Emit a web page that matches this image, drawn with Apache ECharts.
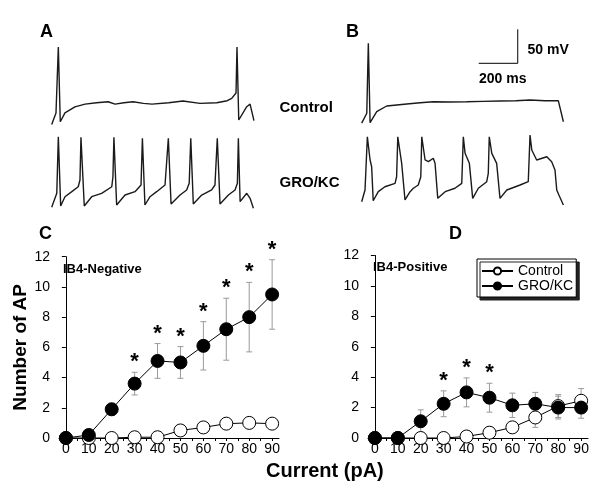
<!DOCTYPE html>
<html><head><meta charset="utf-8">
<script src="https://cdn.jsdelivr.net/npm/echarts@6/dist/echarts.min.js"></script>
<style>html,body{margin:0;padding:0;background:#fff}#c{width:600px;height:489px}</style>
</head><body><div id="c"></div>
<script>
// ---- Current-clamp traces (time ms, membrane potential mV), key points ----
const traceAControl = [[0,-60],[5,-60],[22,-43],[34,54],[44,-56],[68,-43],[119,-34],[171,-30],[230,-28],[289,-26.5],[325,-30],[370,-28],[417,-26.5],[470,-29],[514,-30],[600,-28],[673,-25.5],[760,-29],[846,-28],[900,-25],[923,-21.5],[945,-13.7],[950,54],[959,-53.4],[1000,-33.8],[1017,-30],[1037,-54.4]];
const traceAGro = [[0,-61],[5,-61],[26,-40.6],[34,42.6],[46,-59.3],[68,-45.6],[103,-38.2],[136,-30.9],[145,-21],[150,41.7],[167,-59.3],[205,-45.6],[256,-40.6],[308,-30.9],[314,-16.2],[319,41.7],[333,-57.8],[376,-43.1],[427,-38.2],[458,-28.4],[465,40.3],[478,-57.8],[504,-45.6],[538,-38.2],[581,-28.4],[598,40.3],[612,-56.3],[658,-43.1],[692,-35.7],[705,-25.9],[713,40.3],[726,-56.3],[769,-43.1],[820,-35.7],[837,-28.4],[849,40.3],[863,-56.3],[906,-43.1],[940,-35.7],[952,-25.9],[957,40.3],[966,-52.9],[1000,-40.6],[1017,-48],[1034,-62.6]];
const traceBControl = [[0,-58],[5,-58],[26,-43.5],[34,59.4],[43,-57.4],[77,-41.2],[128,-32.8],[231,-29.9],[300,-28],[367,-26.5],[450,-27],[538,-26.5],[620,-26],[709,-25.5],[790,-25],[863,-24],[940,-25],[1008,-25],[1034,-55.9]];
const traceBGro = [[0,-53],[5,-53],[17,-35.7],[29,42.6],[43,8.4],[51,-1.5],[59,-51.5],[85,-38.2],[119,-30.9],[171,-25.9],[179,-16.2],[185,42.6],[205,3.5],[222,-50.4],[248,-38.2],[265,-33.2],[290,-28.4],[303,-16.2],[308,42.6],[325,8.4],[342,5.9],[367,10.9],[376,3.5],[390,-48],[428,-38.2],[478,-33.2],[513,-25.9],[521,42.6],[530,18.2],[552,3.5],[569,-48],[598,-33.2],[641,-23.5],[649,-11.2],[654,42.6],[667,18.2],[692,3.5],[709,-48],[744,-35.7],[812,-28.4],[854,-23.5],[863,45.1],[872,23],[897,8.4],[949,13.2],[974,5.9],[991,-6.3],[1000,-35.7],[1011,-43.1],[1034,-57.8]];
const scaleBarTime = [600, 800];   // 200 ms
const scaleBarVolt = [30, 80];     // 50 mV

// ---- Number of action potentials vs injected current ----
const current = [0,10,20,30,40,50,60,70,80,90];
const xTicks = [0,10,20,30,40,50,60,70,80,90];
const xMinorTicks = [0,5,10,15,20,25,30,35,40,45,50,55,60,65,70,75,80,85,90];
const yTicks = [0,2,4,6,8,10,12];
const cControl    = [0,0,0,0.05,0.05,0.5,0.7,0.95,1.0,0.95];
const cControlErr = [0,0,0,0.15,0.15,0.2,0.2,0.2,0.2,0.2];
const cGro        = [0,0.2,1.9,3.6,5.1,5.0,6.1,7.2,8.0,9.5];
const cGroErr     = [0,0.1,0.4,0.75,1.15,1.05,1.6,2.05,2.3,2.3];
const cStars      = [30,40,50,60,70,80,90];
const dControl    = [0,0,0,0,0.1,0.35,0.7,1.35,2.1,2.45];
const dControlErr = [0,0,0,0,0.25,0.25,0.3,0.65,0.75,0.8];
const dGro        = [0,0,1.1,2.25,3.0,2.65,2.15,2.25,2.0,2.0];
const dGroErr     = [0,0,0.75,0.85,0.95,0.95,0.8,0.75,0.75,0.7];
const dStars      = [30,40,50];

const FONT = '"Liberation Sans", Arial, sans-serif';
const chart = echarts.init(document.getElementById('c'), null, {renderer:'canvas'});

function pairs(xs, ys){ return xs.map((x,i)=>[x, ys[i]]); }
function errData(xs, ys, es){ return xs.map((x,i)=>[x, ys[i]-es[i], ys[i]+es[i]]).filter(d=>d[2]>d[1]); }
function starData(stars, ys, es){ return stars.map(s=>{const i=current.indexOf(s); return [s, ys[i]+es[i]];}); }

const traceX = (gi)=>({gridIndex:gi, type:'value', min:0, max:1050, show:false});
const traceY = (gi,max)=>({gridIndex:gi, type:'value', min:-75, max:max, show:false});
const traceSeries = (gi, data)=>({type:'line', xAxisIndex:gi, yAxisIndex:gi, data, showSymbol:false, symbol:'none', clip:false,
  lineStyle:{color:'#1a1a1a', width:1.4}, silent:true, animation:false});

const xAx = (gi)=>({gridIndex:gi, type:'value', min:-3, max:93,
  axisLine:{show:true, onZero:false, lineStyle:{color:'#000', width:1}},
  axisTick:{show:true, customValues:xMinorTicks, length:3, inside:false, lineStyle:{color:'#000'}},
  axisLabel:{customValues:xTicks, margin:4, color:'#000', fontSize:14, fontFamily:FONT},
  splitLine:{show:false}});
const yAx = (gi, extra)=>Object.assign({gridIndex:gi, type:'value', min:0, max:12,
  axisLine:{show:true, lineStyle:{color:'#000', width:1}},
  axisTick:{show:true, customValues:yTicks, length:4, lineStyle:{color:'#000'}},
  axisLabel:{customValues:yTicks, margin:9, color:'#000', fontSize:14, fontFamily:FONT},
  splitLine:{show:false}}, extra||{});

const errSeries = (gi, data)=>({type:'custom', xAxisIndex:gi, yAxisIndex:gi, data, z:1, silent:true, animation:false,
  renderItem:(params, api)=>{
    const lo = api.coord([api.value(0), api.value(1)]);
    const hi = api.coord([api.value(0), api.value(2)]);
    const st = {stroke:'#9a9a9a', lineWidth:1};
    return {type:'group', children:[
      {type:'line', shape:{x1:hi[0], y1:hi[1], x2:lo[0], y2:lo[1]}, style:st},
      {type:'line', shape:{x1:hi[0]-3, y1:hi[1], x2:hi[0]+3, y2:hi[1]}, style:st},
      {type:'line', shape:{x1:lo[0]-3, y1:lo[1], x2:lo[0]+3, y2:lo[1]}, style:st}
    ]};
  }});
const starSeries = (gi, data)=>({type:'custom', xAxisIndex:gi, yAxisIndex:gi, data, z:5, silent:true, animation:false,
  renderItem:(params, api)=>{
    const p = api.coord([api.value(0), api.value(1)]);
    return {type:'text', x:p[0], y:p[1]+1, style:{text:'*', fill:'#000', font:'bold 22px '+FONT, align:'center', verticalAlign:'bottom'}};
  }});
const ctrlSeries = (gi, data)=>({name:'Control', type:'line', xAxisIndex:gi, yAxisIndex:gi, data, z:3, animation:false,
  symbol:'circle', symbolSize:13, showAllSymbol:true,
  itemStyle:{color:'#fff', borderColor:'#000', borderWidth:1}, lineStyle:{color:'#000', width:1}});
const groSeries = (gi, data)=>({name:'GRO/KC', type:'line', xAxisIndex:gi, yAxisIndex:gi, data, z:4, animation:false,
  symbol:'circle', symbolSize:13, showAllSymbol:true,
  itemStyle:{color:'#000', borderColor:'#000', borderWidth:1}, lineStyle:{color:'#000', width:1}});

const txt = (text, left, top, size, extra)=>Object.assign({type:'text', left, top, style:{text, fill:'#000', font:'bold '+size+'px '+FONT}}, extra||{});

const option = {
  backgroundColor:'#fff',
  animation:false,
  grid:[
    {left:51.7, top:25.9, width:204.8, height:108.8},
    {left:51.7, top:124.9, width:204.8, height:91.8},
    {left:361.7, top:25.9, width:204.8, height:108.8},
    {left:361.7, top:124.9, width:204.8, height:91.8},
    {left:59, top:256.7, width:220, height:181.3},
    {left:368, top:255.5, width:220, height:182.5}
  ],
  xAxis:[traceX(0), traceX(1), traceX(2), traceX(3), xAx(4), xAx(5)],
  yAxis:[traceY(0,85), traceY(1,60), traceY(2,85), traceY(3,60),
    yAx(4, {name:'Number of AP', nameLocation:'middle', nameGap:29, nameTextStyle:{color:'#000', fontSize:19, fontWeight:'bold', fontFamily:FONT}}),
    yAx(5)],
  legend:{data:['Control','GRO/KC'], orient:'vertical', left:477, top:259, padding:[5,3,4,4],
    itemWidth:31, itemHeight:9, itemGap:1, selectedMode:false,
    textStyle:{color:'#000', fontSize:14, fontFamily:FONT},
    backgroundColor:'#fff', borderColor:'#000', borderWidth:1,
    shadowColor:'#222', shadowBlur:0, shadowOffsetX:3, shadowOffsetY:3},
  series:[
    traceSeries(0, traceAControl), traceSeries(1, traceAGro),
    traceSeries(2, traceBControl), traceSeries(3, traceBGro),
    {type:'line', xAxisIndex:2, yAxisIndex:2, showSymbol:false, symbol:'none', clip:false, silent:true, animation:false,
      lineStyle:{color:'#000', width:1},
      data:[[scaleBarTime[0], scaleBarVolt[0]],[scaleBarTime[1], scaleBarVolt[0]],[scaleBarTime[1], scaleBarVolt[1]]]},
    errSeries(4, errData(current, cControl, cControlErr)),
    errSeries(4, errData(current, cGro, cGroErr)),
    ctrlSeries(4, pairs(current, cControl)),
    groSeries(4, pairs(current, cGro)),
    starSeries(4, starData(cStars, cGro, cGroErr)),
    errSeries(5, errData(current, dControl, dControlErr)),
    errSeries(5, errData(current, dGro, dGroErr)),
    ctrlSeries(5, pairs(current, dControl)),
    groSeries(5, pairs(current, dGro)),
    starSeries(5, starData(dStars, dGro, dGroErr))
  ],
  graphic:[
    txt('A', 40, 23, 18), txt('B', 346, 23, 18),
    txt('C', 39, 225, 18), txt('D', 449, 225, 18),
    txt('Control', 279.5, 100, 15), txt('GRO/KC', 279.5, 175, 15),
    txt('50 mV', 527.5, 43, 14), txt('200 ms', 479, 72, 14),
    txt('IB4-Negative', 63, 263, 13), txt('IB4-Positive', 373, 261, 13),
    txt('Current (pA)', 266, 461, 20)
  ]
};
chart.setOption(option);
</script></body></html>
